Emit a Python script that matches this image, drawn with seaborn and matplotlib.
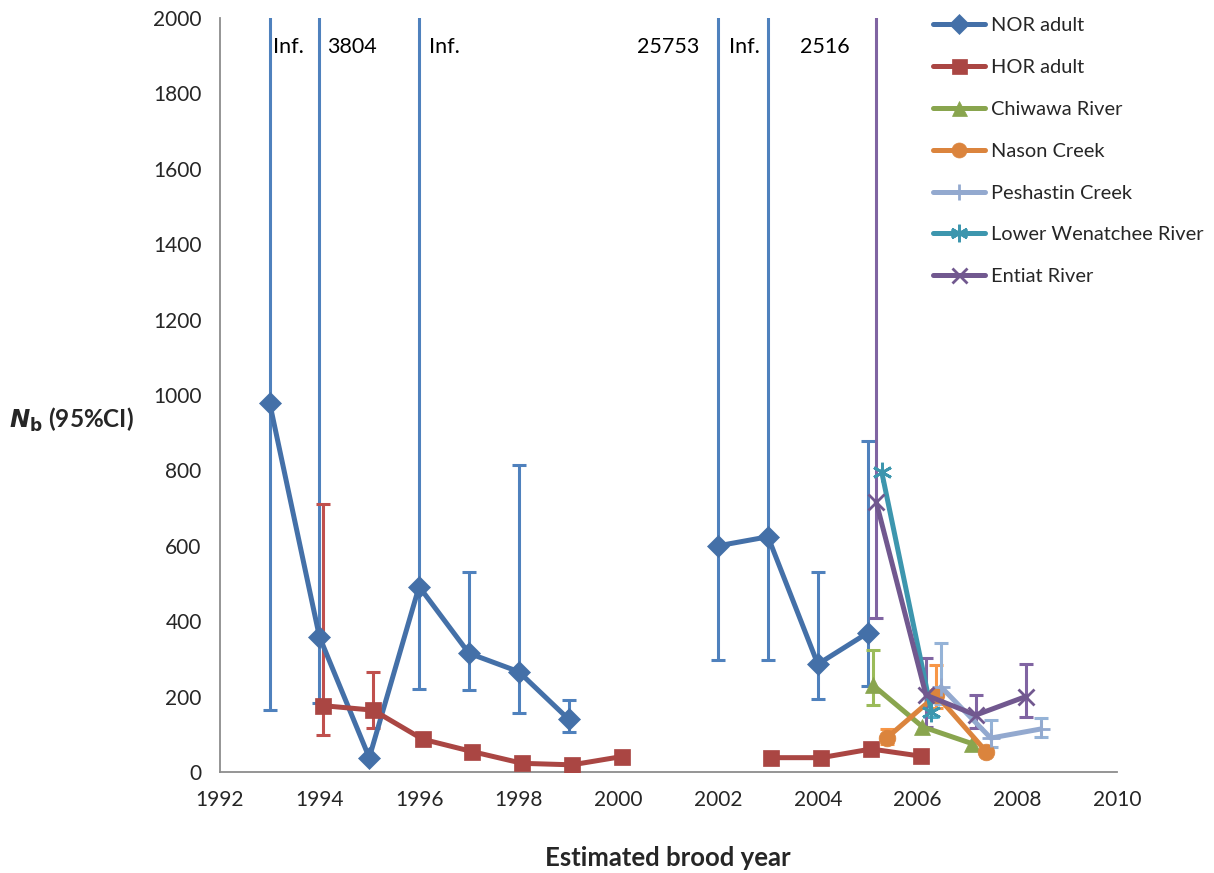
import numpy as np
import pandas as pd
import seaborn as sns
import matplotlib.pyplot as plt
from matplotlib.lines import Line2D

# %% data (upper = np.inf for "Inf.")
nor_year = [1993, 1994, 1995, 1996, 1997, 1998, 1999, 2002, 2003, 2004, 2005]
nor_nb = [980, 359, 38, 492, 315, 266, 140, 600, 624, 286, 369]
nor_lo = [165, 184, np.nan, 220, 217, 156, 107, 297, 297, 193, 229]
nor_hi = [np.inf, 3804, np.nan, np.inf, 531, 814, 191, 25753, np.inf, 530, 878]
nor_seg = [0, 0, 0, 0, 0, 0, 0, 1, 1, 1, 1]

hor_year = [1994.07, 1995.08, 1996.07, 1997.07, 1998.07, 1999.07, 2000.07,
            2003.07, 2004.07, 2005.07, 2006.07]
hor_nb = [176, 164, 87, 54, 23, 19, 41, 38, 38, 61, 42]
hor_lo = [98, 116, np.nan, np.nan, np.nan, np.nan, np.nan, np.nan, np.nan, np.nan, np.nan]
hor_hi = [711, 264, np.nan, np.nan, np.nan, np.nan, np.nan, np.nan, np.nan, np.nan, np.nan]
hor_seg = [0, 0, 0, 0, 0, 0, 0, 1, 1, 1, 1]

chi_year = [2005.1, 2006.1, 2007.1]
chi_nb = [231, 120, 75]
chi_lo = [178, np.nan, np.nan]
chi_hi = [324, np.nan, np.nan]

nas_year = [2005.38, 2006.38, 2007.38]
nas_nb = [90, 204, 54]
nas_lo = [75, 170, np.nan]
nas_hi = [115, 284, np.nan]

pes_year = [2006.47, 2007.47, 2008.47]
pes_nb = [226, 90, 114]
pes_lo = [180, 67, 94]
pes_hi = [342, 138, 143]

low_year = [2005.28, 2006.28]
low_nb = [797, 160]
low_lo = [np.nan, 147]
low_hi = [np.nan, 191]

ent_year = [2005.17, 2006.17, 2007.17, 2008.17]
ent_nb = [717, 204, 151, 200]
ent_lo = [409, 120, 117, 147]
ent_hi = [2516, 302, 204, 286]

# labels for upper limits off the chart, and where they sit
off_labels = ["Inf.", "3804", "Inf.", "25753", "Inf.", "2516"]
off_label_x = [1993.37, 1994.65, 1996.5, 2001.0, 2002.52, 2004.15]

series = [
    ("NOR adult", nor_year, nor_nb, nor_lo, nor_hi, nor_seg),
    ("HOR adult", hor_year, hor_nb, hor_lo, hor_hi, hor_seg),
    ("Chiwawa River", chi_year, chi_nb, chi_lo, chi_hi, None),
    ("Nason Creek", nas_year, nas_nb, nas_lo, nas_hi, None),
    ("Peshastin Creek", pes_year, pes_nb, pes_lo, pes_hi, None),
    ("Lower Wenatchee River", low_year, low_nb, low_lo, low_hi, None),
    ("Entiat River", ent_year, ent_nb, ent_lo, ent_hi, None),
]

styles = {
    "NOR adult": dict(line="#4470A8", err="#4F81BD", marker="D", ms=11),
    "HOR adult": dict(line="#AA4643", err="#C0504D", marker="s", ms=12),
    "Chiwawa River": dict(line="#89A54E", err="#9BBB59", marker="^", ms=12),
    "Nason Creek": dict(line="#DB843D", err="#F79646", marker="o", ms=12),
    "Peshastin Creek": dict(line="#93A9CF", err="#95B3D7", marker="+", ms=13),
    "Lower Wenatchee River": dict(line="#3D96AE", err="#4BACC6", marker=(6, 2, 0), ms=14),
    "Entiat River": dict(line="#71588F", err="#8064A2", marker="x", ms=12),
}

# %%
sns.set_style("white")
plt.rcParams["font.family"] = ["Lato", "DejaVu Sans"]

fig = plt.figure(figsize=(12.14, 8.73), dpi=100)
ax = fig.add_axes([0.181, 0.1157, 0.739, 0.8636])

handles = []
for name, yr, nb, lo, hi, seg in series:
    st = styles[name]
    df = pd.DataFrame({"year": yr, "nb": nb, "lo": lo, "hi": hi,
                       "seg": seg if seg is not None else 0})
    thin = st["marker"] in ("+", "x") or isinstance(st["marker"], tuple)
    # error bars first so the lines sit on top
    ci = df.dropna(subset=["lo"])
    hi_clip = ci["hi"].clip(upper=1e5)
    ax.errorbar(ci["year"], ci["nb"], yerr=[ci["nb"] - ci["lo"], hi_clip - ci["nb"]],
                fmt="none", ecolor=st["err"], elinewidth=2.2, capsize=5,
                capthick=2.2, zorder=2)
    sns.lineplot(data=df, x="year", y="nb", units="seg", estimator=None,
                 color=st["line"], linewidth=3.6, marker=st["marker"],
                 markersize=st["ms"], markeredgecolor=st["line"],
                 markeredgewidth=2 if thin else 0.5,
                 ax=ax, legend=False, zorder=3)
    handles.append(Line2D([], [], color=st["line"], lw=3.6, marker=st["marker"],
                          markersize=st["ms"] * 0.9, markeredgecolor=st["line"],
                          markeredgewidth=2 if thin else 0.5, label=name))

for txt, x in zip(off_labels, off_label_x):
    ax.text(x, 1923, txt, ha="center", va="center", fontsize=15.5, color="black")

ax.set_xlim(1992, 2010)
ax.set_ylim(0, 2000)
ax.set_xticks(range(1992, 2011, 2))
ax.set_yticks(range(0, 2001, 200))
ax.tick_params(axis="both", direction="out", length=6, width=1.3, color="#8C8C8C",
               labelsize=15, pad=7)
sns.despine(ax=ax)
for s in ("left", "bottom"):
    ax.spines[s].set_color("#8C8C8C")
    ax.spines[s].set_linewidth(1.3)

ax.set_xlabel("Estimated brood year", fontsize=18.5, fontweight="bold", labelpad=26)
ax.set_ylabel("")
fig.text(0.059, 0.519, r"$\mathbfit{N}_{\mathbf{b}}$ (95%CI)", fontsize=17.5,
         fontweight="bold", ha="center", va="center")

fig.legend(handles=handles, loc="upper left", bbox_to_anchor=(0.757, 0.996),
           frameon=False, fontsize=14.4, handlelength=2.6, handletextpad=0.3,
           labelspacing=1.24, borderaxespad=0.3)

fig.savefig("out.png", dpi=100)
